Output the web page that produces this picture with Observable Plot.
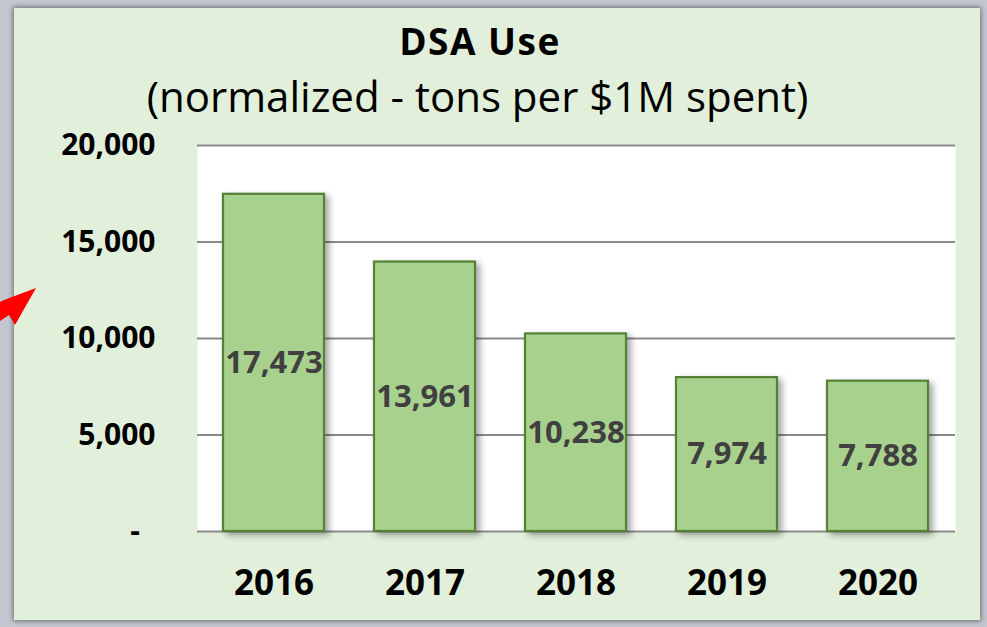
<!DOCTYPE html>
<html>
<head>
<meta charset="utf-8">
<script src="https://cdn.jsdelivr.net/npm/d3@7"></script>
<script src="https://cdn.jsdelivr.net/npm/@observablehq/plot@0.6"></script>
<style>
  html, body { margin: 0; padding: 0; }
  body { width: 987px; height: 627px; background: #c3c7cf; position: relative; overflow: hidden; font-family: "Open Sans", sans-serif; }
  #panel { position: absolute; left: 14px; top: 8px; width: 966px; height: 612px; background: #e2efda;
           box-shadow: 0 0 5px 1px rgba(0,0,0,0.45); }
  #title { position: absolute; left: 0; width: 960px; top: 18px; text-align: center; font-weight: 700; font-size: 37px;
           letter-spacing: 1.5px; line-height: 46px; color: #000; }
  #subtitle { position: absolute; left: 0; width: 955px; top: 71px; text-align: center; font-weight: 400; font-size: 42px;
           line-height: 50px; color: #000; }
  #chart { position: absolute; left: 0; top: 120px; }
  #chart g[aria-label="bar"] rect { filter: drop-shadow(4px 3px 3px rgba(0,0,0,0.35)); }
  #arrow { position: absolute; left: 0; top: 0; }
</style>
</head>
<body>
<div id="panel"></div>
<div id="title">DSA Use</div>
<div id="subtitle">(normalized - tons per $1M spent)</div>
<div id="chart"></div>
<svg id="arrow" width="60" height="340"><polygon points="36,288 15,325 9,315 0,321 0,302 4,300" fill="#ff0000"/></svg>
<script>
const years = ["2016", "2017", "2018", "2019", "2020"];
const values = [17473, 13961, 10238, 7974, 7788];
const yTicks = [0, 5000, 10000, 15000, 20000];

const data = years.map((y, i) => ({year: y, value: values[i]}));
const fmt = d3.format(",");

const plot = Plot.plot({
  width: 987,
  height: 495,
  marginLeft: 197,
  marginRight: 32,
  marginTop: 25,
  marginBottom: 84,
  style: {background: "transparent", fontFamily: "Open Sans, sans-serif", overflow: "visible"},
  x: {domain: years, paddingInner: 0.33, paddingOuter: 0.165, label: null},
  y: {domain: [0, 20000], label: null},
  marks: [
    Plot.frame({fill: "white", stroke: null}),
    Plot.ruleY(yTicks, {stroke: "#8a8a8a", strokeWidth: 2.2}),
    Plot.barY(data, {x: "year", y: "value", fill: "#a9d18e", stroke: "#548235", strokeWidth: 2.2}),
    Plot.text(data, {x: "year", y: d => d.value / 2, text: d => fmt(d.value), fill: "#404040",
                     fontSize: 31, fontWeight: "bold"}),
    Plot.axisY({ticks: yTicks, tickSize: 0, tickPadding: 42, fontSize: 30, fontWeight: "bold", fill: "black",
                tickFormat: d => d === 0 ? "-\u00a0\u00a0" : fmt(d), label: null}),
    Plot.axisX({tickSize: 0, tickPadding: 39, fontSize: 35, fontWeight: "bold", fill: "black", label: null})
  ]
});
document.getElementById("chart").appendChild(plot);
</script>
</body>
</html>
